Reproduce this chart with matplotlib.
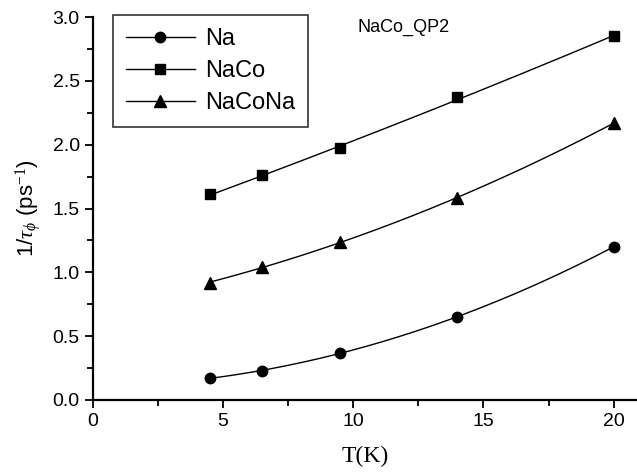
import numpy as np
import matplotlib
matplotlib.use("Agg")
import matplotlib.pyplot as plt
from matplotlib.ticker import MultipleLocator

# data
temps = [4.5, 6.5, 9.5, 14, 20]
rate_na = [0.17, 0.23, 0.37, 0.65, 1.20]
rate_naco = [1.61, 1.76, 1.97, 2.37, 2.85]
rate_nacona = [0.92, 1.04, 1.24, 1.58, 2.17]
series_names = ["Na", "NaCo", "NaCoNa"]
markers = ["o", "s", "^"]
marker_sizes = [7.5, 6.5, 8]

plt.rcParams['font.family'] = ['Liberation Sans', 'DejaVu Sans']
plt.rcParams['mathtext.fontset'] = 'custom'
plt.rcParams['mathtext.rm'] = 'Liberation Serif'
plt.rcParams['mathtext.it'] = 'Liberation Serif:italic'

fig = plt.figure(figsize=(6.37, 4.72), dpi=100)
ax = fig.add_axes([93 / 637, 72 / 472, 1 - 93 / 637, 383 / 472])

for name, ys, mk, ms in zip(series_names, [rate_na, rate_naco, rate_nacona],
                            markers, marker_sizes):
    # quadratic fit curve, as in the original (QP2)
    coef = np.polyfit(temps, ys, 2)
    xs = np.linspace(temps[0], temps[-1], 200)
    ax.plot(xs, np.polyval(coef, xs), color='black', lw=1.0)
    ax.plot(temps, ys, linestyle='none', marker=mk, ms=ms, color='black')
    # proxy handle for legend
    ax.plot([], [], color='black', lw=1.0, marker=mk, ms=ms, label=name)

ax.set_xlim(0, 20.9)
ax.set_ylim(0, 3.0)
ax.xaxis.set_major_locator(MultipleLocator(5))
ax.xaxis.set_minor_locator(MultipleLocator(2.5))
ax.yaxis.set_major_locator(MultipleLocator(0.5))
ax.yaxis.set_minor_locator(MultipleLocator(0.25))
ax.tick_params(which='major', direction='out', length=6, width=1.3, labelsize=14)
ax.tick_params(which='minor', direction='out', length=4, width=1.3)
ax.xaxis.set_major_formatter(plt.FuncFormatter(lambda v, p: f"{v:g}"))
ax.yaxis.set_major_formatter(plt.FuncFormatter(lambda v, p: f"{v:.1f}"))

for side in ['top', 'right']:
    ax.spines[side].set_visible(False)
for side in ['left', 'bottom']:
    ax.spines[side].set_linewidth(1.6)

ax.set_xlabel('T(K)', family='Liberation Serif', fontsize=17, labelpad=11)
ax.set_ylabel(r'1/$\tau_{\phi}$ (ps$^{-1}$)', fontsize=16, labelpad=6)

ax.text(0.487, 0.972, 'NaCo_QP2', transform=ax.transAxes, fontsize=13,
        ha='left', va='center')

leg = ax.legend(loc='upper left', bbox_to_anchor=(0.037, 1.004), fontsize=17,
                frameon=True, fancybox=False, edgecolor='black',
                borderpad=0.55, labelspacing=0.42, handlelength=2.9,
                handletextpad=0.45, borderaxespad=0)
leg.get_frame().set_linewidth(1.2)

fig.savefig('out.png', dpi=100)
